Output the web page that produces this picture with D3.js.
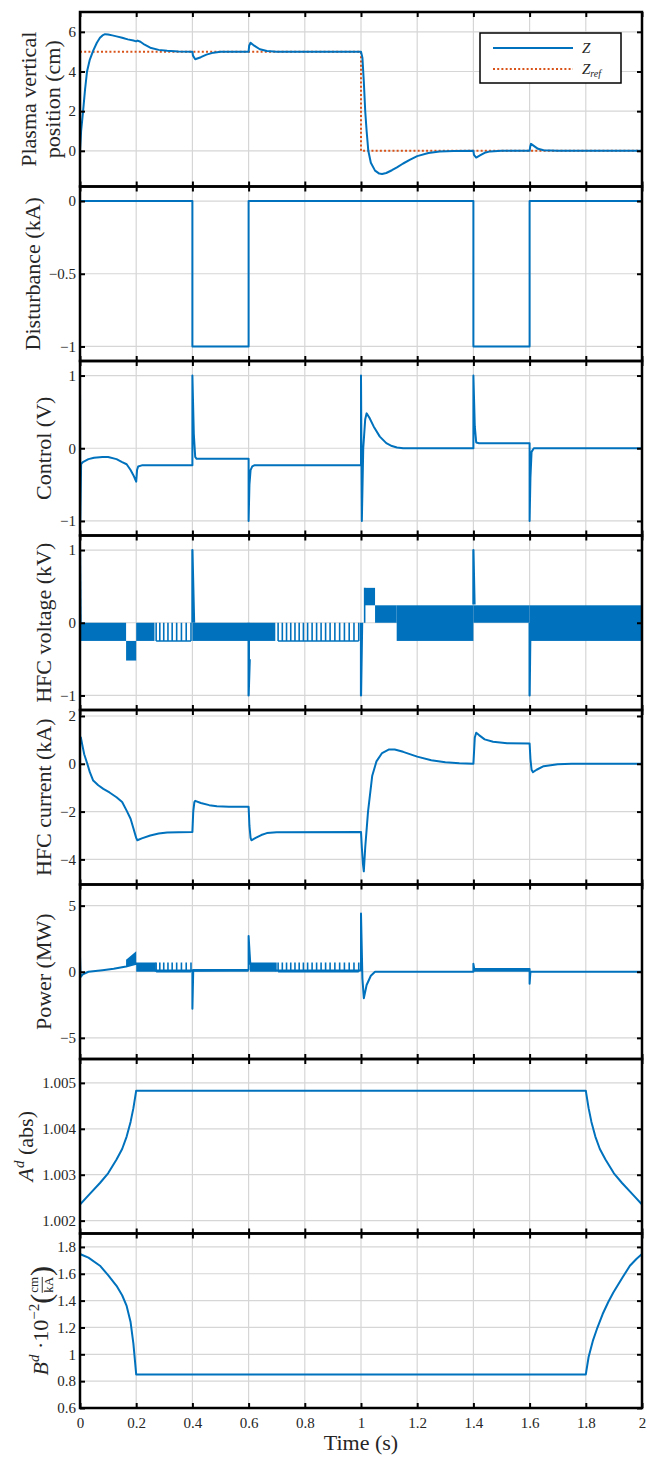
<!DOCTYPE html>
<html>
<head>
<meta charset="utf-8">
<script src="https://cdn.jsdelivr.net/npm/d3@7"></script>
<style>
  body { margin: 0; background: #fff; }
  text { font-family: "Liberation Serif", "DejaVu Serif", serif; fill: #262626; }
</style>
</head>
<body>
<svg id="fig" width="647" height="1461"></svg>
<script>
// ---- data (time in s) ----
var tTicks = [0, 0.2, 0.4, 0.6, 0.8, 1, 1.2, 1.4, 1.6, 1.8, 2];

// plasma vertical position (cm)
var zTicks = [0, 2, 4, 6];
var zSeries = [[0,0],[0.004,1.0],[0.011,2.0],[0.018,3.1],[0.025,4.0],[0.035,4.6],[0.047,5.05],[0.06,5.45],
  [0.071,5.7],[0.08,5.82],[0.089,5.88],[0.1,5.87],[0.115,5.82],[0.13,5.77],[0.15,5.7],[0.17,5.62],[0.19,5.56],
  [0.2,5.52],[0.205,5.56],[0.215,5.5],[0.23,5.35],[0.25,5.2],[0.28,5.09],[0.31,5.04],[0.35,5.01],[0.4,5.0],
  [0.402,4.8],[0.41,4.62],[0.43,4.72],[0.45,4.85],[0.475,4.95],[0.5,4.99],[0.6,5.0],[0.602,5.3],[0.607,5.45],
  [0.62,5.3],[0.64,5.12],[0.665,5.03],[0.7,5.0],[1.0,5.0],[1.005,4.7],[1.01,3.5],[1.015,2.0],[1.02,1.0],
  [1.026,0],[1.035,-0.6],[1.05,-1.0],[1.065,-1.15],[1.075,-1.17],[1.09,-1.12],[1.11,-0.98],[1.128,-0.84],
  [1.15,-0.64],[1.175,-0.45],[1.2,-0.27],[1.24,-0.11],[1.28,-0.04],[1.33,-0.01],[1.4,0],[1.402,-0.2],
  [1.41,-0.34],[1.425,-0.22],[1.44,-0.1],[1.46,-0.03],[1.5,0],[1.6,0],[1.602,0.2],[1.605,0.35],[1.615,0.25],
  [1.63,0.1],[1.65,0.03],[1.7,0],[2,0]];
var zRefSeries = [[0,5],[1,5],[1,0],[2,0],[2,5]];

// disturbance (kA)
var distTicks = [-1, -0.5, 0];
var distSeries = [[0,0],[0.4,0],[0.4,-1],[0.6,-1],[0.6,0],[1.4,0],[1.4,-1],[1.6,-1],[1.6,0],[2,0]];

// control (V)
var ctrlTicks = [-1, 0, 1];
var ctrlSeries = [[0,1],[0.001,-1],[0.004,-0.22],[0.01,-0.19],[0.03,-0.15],[0.05,-0.13],[0.08,-0.12],
  [0.1,-0.12],[0.13,-0.15],[0.15,-0.19],[0.166,-0.22],[0.18,-0.3],[0.19,-0.37],[0.2,-0.46],[0.203,-0.3],
  [0.207,-0.25],[0.22,-0.235],[0.4,-0.235],[0.4,1.0],[0.405,0.2],[0.41,-0.12],[0.415,-0.145],[0.6,-0.145],
  [0.6,-1.0],[0.603,-0.5],[0.607,-0.3],[0.613,-0.25],[0.62,-0.235],[1.0,-0.235],[1.0,1.0],[1.003,-1.0],
  [1.008,0],[1.015,0.4],[1.02,0.48],[1.03,0.42],[1.045,0.3],[1.067,0.16],[1.09,0.07],[1.11,0.03],
  [1.128,0.01],[1.15,0],[1.4,0],[1.4,1.0],[1.405,0.3],[1.41,0.08],[1.42,0.07],[1.6,0.07],[1.6,-1.0],
  [1.603,-0.4],[1.607,-0.05],[1.615,0],[2.0,0],[2.0,1.0]];

// HFC voltage (kV): spikes, switching bands [t0,t1,lo,hi], stripe times
var voltTicks = [-1, 0, 1];
var voltSpikes = [[[0,1],[0.002,0]], [[0.4,0],[0.4,1],[0.406,0]], [[0.6,0],[0.6,-1],[0.604,-0.5]],
  [[1.0,0],[1.0,-1],[1.004,0]], [[1.4,0.25],[1.4,1],[1.404,0.25]], [[1.6,0],[1.6,-1],[1.603,0]], [[2.0,0],[2.0,1]]];
var voltBands = [[0.003,0.164,-0.25,0],[0.164,0.2,-0.52,-0.25],[0.2,0.265,-0.25,0],[0.4,0.6,-0.25,0],
  [0.6,0.605,-0.52,0],[0.605,0.695,-0.25,0],[1.013,1.05,0.24,0.48],[1.05,1.127,0,0.24],
  [1.127,1.4,-0.25,0.24],[1.4,1.6,0,0.24],[1.6,2.0,-0.25,0.24]];
var voltStripesA = [0.271,0.284,0.298,0.313,0.328,0.344,0.361,0.378,0.395];
var voltStripesB = [0.705,0.72,0.735,0.75,0.765,0.78,0.795,0.81,0.826,0.842,0.858,0.874,0.89,0.907,0.924,0.941,0.958,0.975,0.992];

// HFC current (kA)
var currTicks = [-4, -2, 0, 2];
var currSeries = [[0,0.95],[0.003,1.1],[0.008,0.8],[0.015,0.4],[0.026,0],[0.035,-0.35],[0.047,-0.7],
  [0.065,-0.9],[0.083,-1.05],[0.105,-1.2],[0.13,-1.4],[0.15,-1.6],[0.166,-1.96],[0.18,-2.3],[0.19,-2.7],
  [0.2,-3.1],[0.204,-3.2],[0.22,-3.12],[0.25,-3.0],[0.28,-2.92],[0.31,-2.87],[0.35,-2.86],[0.4,-2.85],
  [0.403,-2.0],[0.407,-1.6],[0.41,-1.55],[0.43,-1.64],[0.46,-1.73],[0.487,-1.78],[0.53,-1.8],[0.6,-1.8],
  [0.603,-2.6],[0.607,-3.1],[0.61,-3.2],[0.625,-3.1],[0.645,-2.98],[0.665,-2.9],[0.7,-2.86],[1.0,-2.85],
  [1.003,-3.5],[1.007,-4.2],[1.01,-4.5],[1.015,-3.5],[1.025,-2.0],[1.04,-0.5],[1.055,0.1],[1.075,0.45],
  [1.1,0.6],[1.12,0.6],[1.15,0.5],[1.2,0.3],[1.25,0.15],[1.3,0.06],[1.35,0.02],[1.4,0],[1.405,1.1],
  [1.41,1.3],[1.42,1.2],[1.44,1.02],[1.47,0.92],[1.52,0.86],[1.6,0.85],[1.603,0.2],[1.607,-0.25],
  [1.612,-0.35],[1.625,-0.25],[1.65,-0.1],[1.7,-0.02],[1.75,0],[2,0]];

// power (MW)
var powTicks = [-5, 0, 5];
var powSeries = [[0,0],[0,1.2],[0.002,-0.4],[0.01,-0.2],[0.03,0],[0.08,0.12],[0.12,0.22],[0.164,0.4],
  [0.2,0.6],[0.27,0.1],[0.4,0.1],[0.4,-2.8],[0.403,0.1],[0.6,0.15],[0.6,2.7],[0.604,1.3],[0.606,0.6],
  [0.7,0.1],[1.0,0.1],[1.0,4.4],[1.005,-0.5],[1.01,-2.0],[1.02,-1.0],[1.035,-0.3],[1.05,0],[1.4,0],
  [1.4,0.6],[1.403,0.2],[1.6,0.2],[1.6,-0.9],[1.603,0],[2,0]];
var powBands = [[0.164,0.2,0.4,0.9,0.65,1.55],[0.2,0.27,0,0.7,0,0.7],[0.605,0.7,0,0.7,0,0.7],
  [0.4,0.6,0,0.2,0,0.2],[1.4,1.6,0,0.25,0,0.25]];
var powStripesA = voltStripesA;
var powStripesB = voltStripesB;

// A^d (abs)
var aTicks = [1.002, 1.003, 1.004, 1.005];
var aSeries = [[0,1.00235],[0.03,1.00255],[0.071,1.00282],[0.1,1.00303],[0.13,1.00333],[0.15,1.00356],
  [0.166,1.00383],[0.18,1.00415],[0.19,1.00445],[0.2,1.00483],[1.8,1.00483],[1.81,1.00445],[1.82,1.00415],
  [1.834,1.00383],[1.85,1.00356],[1.87,1.00333],[1.9,1.00303],[1.929,1.00282],[1.97,1.00255],[2,1.00235]];

// B^d * 1e-2 (cm/kA)
var bTicks = [0.6, 0.8, 1, 1.2, 1.4, 1.6, 1.8];
var bSeries = [[0,1.747],[0.03,1.72],[0.071,1.66],[0.1,1.59],[0.13,1.51],[0.15,1.44],[0.166,1.36],
  [0.18,1.24],[0.19,1.08],[0.2,0.85],[1.8,0.85],[1.81,0.98],[1.825,1.1],[1.839,1.185],[1.86,1.3],
  [1.88,1.39],[1.898,1.46],[1.93,1.57],[1.957,1.66],[1.98,1.71],[2,1.747]];

// ---- layout ----
var BLUE = "#0072BD", ORANGE = "#D95319";
var L = 80, R = 642, TOP = 12, PH = 174.5;
var LABEL_FS = 22;
var svg = d3.select("#fig");
var x = d3.scaleLinear().domain([0, 2]).range([L, R]);
var fmt = function(d) { return String(+d.toFixed(3)).replace("-", "\u2212"); };

var panels = [
  { domain: [-1.8, 7], ticks: zTicks, label: ["Plasma vertical", "position (cm)"] },
  { domain: [-1.1, 0.1], ticks: distTicks, label: ["Disturbance (kA)"] },
  { domain: [-1.2, 1.2], ticks: ctrlTicks, label: ["Control (V)"] },
  { domain: [-1.2, 1.2], ticks: voltTicks, label: ["HFC voltage (kV)"] },
  { domain: [-5.05, 2.25], ticks: currTicks, label: ["HFC current (kA)"] },
  { domain: [-6.6, 6.6], ticks: powTicks, label: ["Power (MW)"] },
  { domain: [1.00172, 1.00552], ticks: aTicks, label: "A" },
  { domain: [0.6, 1.9], ticks: bTicks, label: "B" }
];

panels.forEach(function(p, i) {
  var y0 = TOP + i * PH, y1 = y0 + PH;
  var y = d3.scaleLinear().domain(p.domain).range([y1, y0]);
  var g = svg.append("g");
  var line = d3.line().x(function(d) { return x(d[0]); }).y(function(d) { return y(d[1]); });

  g.append("clipPath").attr("id", "clip" + i).append("rect")
    .attr("x", L).attr("y", y0).attr("width", R - L).attr("height", PH);

  // grid
  g.selectAll(".vg").data(tTicks).enter().append("line")
    .attr("x1", function(d) { return x(d); }).attr("x2", function(d) { return x(d); })
    .attr("y1", y0).attr("y2", y1).attr("stroke", "#d6d6d6").attr("stroke-width", 1.2);
  g.selectAll(".hg").data(p.ticks).enter().append("line")
    .attr("x1", L).attr("x2", R)
    .attr("y1", function(d) { return y(d); }).attr("y2", function(d) { return y(d); })
    .attr("stroke", "#d6d6d6").attr("stroke-width", 1.2);

  var plot = g.append("g").attr("clip-path", "url(#clip" + i + ")");

  function drawLine(data, color, w) {
    return plot.append("path").datum(data).attr("d", line).attr("fill", "none")
      .attr("stroke", color || BLUE).attr("stroke-width", w || 2).attr("stroke-linejoin", "round");
  }
  function drawBands(bands) {
    plot.selectAll(null).data(bands).enter().append("rect")
      .attr("x", function(d) { return x(d[0]); })
      .attr("width", function(d) { return x(d[1]) - x(d[0]); })
      .attr("y", function(d) { return y(d[3]); })
      .attr("height", function(d) { return y(d[2]) - y(d[3]); })
      .attr("fill", BLUE);
  }
  function drawStripes(times, lo, hi) {
    plot.selectAll(null).data(times).enter().append("line")
      .attr("x1", function(d) { return x(d); }).attr("x2", function(d) { return x(d); })
      .attr("y1", y(lo)).attr("y2", y(hi)).attr("stroke", BLUE).attr("stroke-width", 1.6);
    plot.append("line").attr("x1", x(times[0])).attr("x2", x(times[times.length - 1]))
      .attr("y1", y(lo)).attr("y2", y(lo)).attr("stroke", BLUE).attr("stroke-width", 1.6);
  }

  if (i === 0) {
    drawLine(zRefSeries, ORANGE, 2).attr("stroke-dasharray", "2,2.2");
    drawLine(zSeries);
  } else if (i === 1) {
    drawLine(distSeries);
  } else if (i === 2) {
    drawLine(ctrlSeries);
  } else if (i === 3) {
    drawBands(voltBands);
    drawStripes(voltStripesA, -0.25, 0);
    drawStripes(voltStripesB, -0.25, 0);
    voltSpikes.forEach(function(s) { drawLine(s, BLUE, 2.2); });
    drawLine([[1.013, 0.48], [1.013, 0]], BLUE, 1.6);
  } else if (i === 4) {
    drawLine(currSeries);
  } else if (i === 5) {
    var area = d3.area().x(function(d) { return x(d[0]); })
      .y0(function(d) { return y(d[1]); }).y1(function(d) { return y(d[2]); });
    plot.selectAll(null).data(powBands).enter().append("path")
      .attr("d", function(d) { return area([[d[0], d[2], d[3]], [d[1], d[4], d[5]]]); })
      .attr("fill", BLUE);
    drawStripes(powStripesA, 0, 0.7);
    drawStripes(powStripesB, 0, 0.7);
    drawLine(powSeries);
  } else if (i === 6) {
    drawLine(aSeries);
  } else {
    drawLine(bSeries);
  }

  // axes with inward ticks on all sides
  var ax = g.append("g").attr("transform", "translate(" + L + ",0)")
    .call(d3.axisLeft(y).tickValues(p.ticks).tickSize(-5).tickPadding(4)
      .tickFormat(i === 6 ? function(d) { return d.toFixed(3); } : fmt));
  g.append("g").attr("transform", "translate(" + R + ",0)")
    .call(d3.axisRight(y).tickValues(p.ticks).tickSize(-5).tickFormat(""));
  g.append("g").attr("transform", "translate(0," + y0 + ")")
    .call(d3.axisTop(x).tickValues(tTicks).tickSize(-5).tickFormat(""));
  g.append("g").attr("transform", "translate(0," + y1 + ")")
    .call(d3.axisBottom(x).tickValues(tTicks).tickSize(-5).tickPadding(9)
      .tickFormat(i === panels.length - 1 ? fmt : ""));
  g.selectAll(".domain").remove();
  g.selectAll("g").attr("font-family", null).attr("font-size", null);
  g.selectAll(".tick line").attr("stroke", "#000").attr("stroke-width", 2);
  g.selectAll(".tick text").attr("font-size", 15).attr("fill", "#262626")
    .style("font-family", "'Liberation Serif', serif");

  g.append("rect").attr("x", L).attr("y", y0).attr("width", R - L).attr("height", PH)
    .attr("fill", "none").attr("stroke", "#000").attr("stroke-width", 2.5);

  // y label placed left of widest tick label
  var minX = d3.min(ax.selectAll(".tick text").nodes(), function(n) { return n.getBBox().x; }) + L;
  var cy = (y0 + y1) / 2;
  var base = minX - 9;
  if (Array.isArray(p.label)) {
    p.label.forEach(function(s, k) {
      var bxl = base - (p.label.length - 1 - k) * 24;
      svg.append("text").attr("transform", "translate(" + bxl + "," + cy + ") rotate(-90)")
        .attr("text-anchor", "middle").attr("font-size", LABEL_FS).text(s);
    });
  } else if (p.label === "A") {
    var t = svg.append("text").attr("transform", "translate(" + base + "," + cy + ") rotate(-90)")
      .attr("text-anchor", "middle").attr("font-size", LABEL_FS);
    t.append("tspan").attr("font-style", "italic").text("A");
    t.append("tspan").attr("font-style", "italic").attr("font-size", 15).attr("dy", -9).text("d");
    t.append("tspan").attr("dy", 9).text(" (abs)");
  } else {
    var lg = svg.append("g");
    var inner = lg.append("g");
    var t1 = inner.append("text").attr("font-size", LABEL_FS);
    t1.append("tspan").attr("font-style", "italic").text("B");
    t1.append("tspan").attr("font-style", "italic").attr("font-size", 15).attr("dy", -9).text("d");
    t1.append("tspan").attr("dy", 9).text(" \u00b710");
    t1.append("tspan").attr("font-size", 15).attr("dy", -9).text("\u22122");
    t1.append("tspan").attr("dy", 9).text(" ");
    var w1 = t1.node().getComputedTextLength();
    var lp = inner.append("text").attr("x", w1).attr("font-size", 30).attr("y", 3).text("(");
    var wp = lp.node().getComputedTextLength();
    var fx = w1 + wp + 1;
    var num = inner.append("text").attr("x", fx).attr("y", -10).attr("font-size", 13).text("cm");
    var den = inner.append("text").attr("x", fx).attr("y", 5).attr("font-size", 13).text("kA");
    var fw = Math.max(num.node().getComputedTextLength(), den.node().getComputedTextLength());
    num.attr("x", fx + fw / 2).attr("text-anchor", "middle");
    den.attr("x", fx + fw / 2).attr("text-anchor", "middle");
    inner.append("line").attr("x1", fx).attr("x2", fx + fw).attr("y1", -6).attr("y2", -6)
      .attr("stroke", "#262626").attr("stroke-width", 0.9);
    inner.append("text").attr("x", fx + fw + 1).attr("y", 3).attr("font-size", 30).text(")");
    var total = fx + fw + 1 + wp;
    inner.attr("transform", "translate(" + (-total / 2) + ",0)");
    lg.attr("transform", "translate(" + base + "," + cy + ") rotate(-90)");
  }
});

// x label
svg.append("text").attr("x", x(1)).attr("y", 1450).attr("text-anchor", "middle")
  .attr("font-size", LABEL_FS).text("Time (s)");

// legend
var leg = svg.append("g");
leg.append("rect").attr("x", 480).attr("y", 33).attr("width", 141).attr("height", 50)
  .attr("fill", "#fff").attr("stroke", "#000").attr("stroke-width", 1.5);
leg.append("line").attr("x1", 493).attr("x2", 573).attr("y1", 48).attr("y2", 48)
  .attr("stroke", BLUE).attr("stroke-width", 2);
leg.append("line").attr("x1", 493).attr("x2", 573).attr("y1", 69).attr("y2", 69)
  .attr("stroke", ORANGE).attr("stroke-width", 2).attr("stroke-dasharray", "2,2.2");
leg.append("text").attr("x", 582).attr("y", 53).attr("font-size", 15).attr("font-style", "italic").text("Z");
var zr = leg.append("text").attr("x", 582).attr("y", 74).attr("font-size", 15).attr("font-style", "italic");
zr.append("tspan").text("Z");
zr.append("tspan").attr("font-size", 10).attr("dy", 3).text("ref");
</script>
</body>
</html>
